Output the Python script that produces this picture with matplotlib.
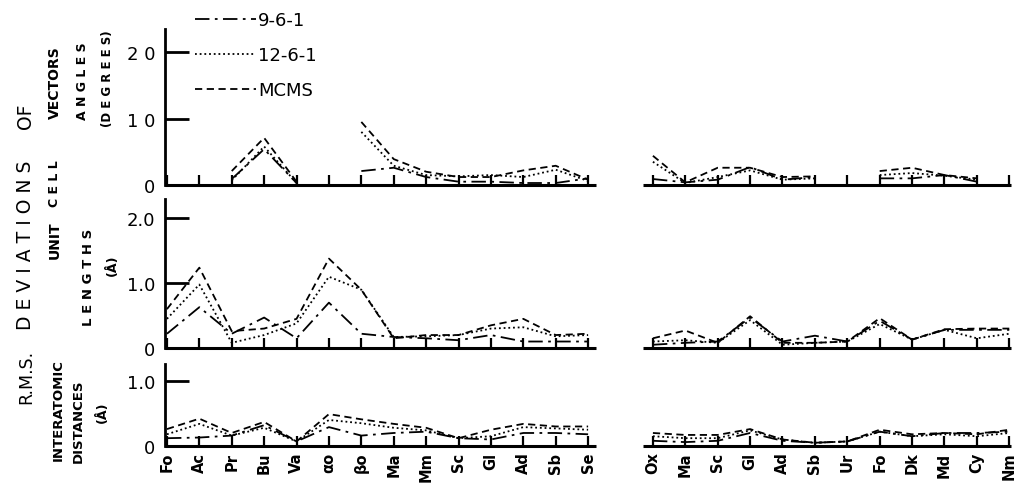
"""
R.M.S. deviations of unit cell vectors and interatomic distances
for three potential sets (9-6-1, 12-6-1, MCMS), redrawn from a scanned figure.
"""

import numpy as np
import matplotlib
matplotlib.use("Agg")
import matplotlib.pyplot as plt

nan = np.nan

# ---------- categories (two groups of crystals, gap between) ----------
left_labels = ["Fo", "Ac", "Pr", "Bu", "Va", "αo", "βo", "Ma", "Mm",
               "Sc", "Gl", "Ad", "Sb", "Se"]
right_labels = ["Ox", "Ma", "Sc", "Gl", "Ad", "Sb", "Ur", "Fo", "Dk",
                "Md", "Cy", "Nm"]
labels = left_labels + right_labels
n_left = len(left_labels)
x_left = np.arange(n_left)
x_right = np.arange(len(right_labels)) + n_left + 1
x = np.concatenate([x_left, x_right])

# ---------- angles (degrees) ----------
ang_961 = [nan, nan, 0.09, 0.54, 0.03, nan, 0.21, 0.26, 0.12, 0.05, 0.05, 0.03, 0.03, 0.10,
           0.09, 0.04, 0.08, 0.27, 0.08, 0.12, nan, 0.10, 0.10, 0.15, 0.05, nan]
ang_1261 = [nan, nan, 0.07, 0.58, 0.03, nan, 0.80, 0.29, 0.15, 0.13, 0.15, 0.12, 0.23, 0.06,
            0.35, 0.03, 0.12, 0.22, 0.08, 0.10, nan, 0.15, 0.18, 0.14, 0.08, nan]
ang_mcms = [nan, nan, 0.21, 0.71, 0.05, nan, 0.95, 0.39, 0.20, 0.12, 0.12, 0.22, 0.29, 0.08,
            0.44, 0.04, 0.26, 0.26, 0.12, 0.13, nan, 0.21, 0.26, 0.15, 0.10, nan]

# ---------- lengths (Å) ----------
len_961 = [0.22, 0.63, 0.22, 0.47, 0.15, 0.70, 0.22, 0.17, 0.15, 0.12, 0.20, 0.10, 0.10, 0.10,
           0.05, 0.08, 0.10, 0.47, 0.10, 0.19, 0.10, 0.42, 0.13, 0.28, 0.28, 0.28]
len_1261 = [0.45, 0.98, 0.08, 0.20, 0.38, 1.10, 0.90, 0.17, 0.18, 0.20, 0.30, 0.32, 0.18, 0.20,
            0.10, 0.12, 0.08, 0.43, 0.05, 0.08, 0.10, 0.37, 0.13, 0.28, 0.15, 0.22]
len_mcms = [0.60, 1.24, 0.26, 0.30, 0.45, 1.38, 0.90, 0.15, 0.20, 0.20, 0.35, 0.45, 0.20, 0.22,
            0.15, 0.27, 0.08, 0.49, 0.08, 0.08, 0.10, 0.46, 0.13, 0.29, 0.30, 0.30]

# ---------- interatomic distances (Å) ----------
dist_961 = [0.12, 0.13, 0.16, 0.32, 0.07, 0.29, 0.16, 0.20, 0.22, 0.12, 0.10, 0.20, 0.20, 0.18,
            0.08, 0.06, 0.08, 0.20, 0.08, 0.05, 0.07, 0.22, 0.15, 0.20, 0.20, 0.22]
dist_1261 = [0.18, 0.34, 0.16, 0.28, 0.07, 0.40, 0.35, 0.28, 0.24, 0.12, 0.15, 0.29, 0.27, 0.25,
             0.15, 0.12, 0.12, 0.24, 0.10, 0.05, 0.07, 0.22, 0.15, 0.18, 0.15, 0.20]
dist_mcms = [0.26, 0.42, 0.20, 0.37, 0.07, 0.49, 0.41, 0.34, 0.28, 0.12, 0.25, 0.34, 0.30, 0.30,
             0.20, 0.17, 0.17, 0.26, 0.10, 0.05, 0.07, 0.25, 0.18, 0.20, 0.18, 0.25]

series_names = ["9-6-1", "12-6-1", "MCMS"]
styles = [(0, (8, 3, 1.5, 3)), (0, (1, 1.6)), (0, (4, 2.5))]

W, H = 1019, 485
fig = plt.figure(figsize=(W / 100, H / 100), dpi=100)


def px_axes(left, top, right, bottom):
    return fig.add_axes([left / W, 1 - bottom / H, (right - left) / W, (bottom - top) / H])


ax_top = px_axes(165, 30, 1019, 186)
ax_mid = px_axes(165, 200, 1019, 349)
ax_bot = px_axes(165, 365, 1019, 447)

panels = [
    (ax_top, [ang_961, ang_1261, ang_mcms], 2.35, [0, 1, 2], ["0", "1 0", "2 0"]),
    (ax_mid, [len_961, len_1261, len_mcms], 2.3, [0, 1, 2], ["0", "1.0", "2.0"]),
    (ax_bot, [dist_961, dist_1261, dist_mcms], 1.26, [0, 1], ["0", "1.0"]),
]

handles = []
for ax, data, ytop, yt, ytl in panels:
    for vals, ls, name in zip(data, styles, series_names):
        vals = np.asarray(vals, dtype=float)
        line, = ax.plot(x_left, vals[:n_left], color="black", linestyle=ls,
                        linewidth=1.3, label=name)
        ax.plot(x_right, vals[n_left:], color="black", linestyle=ls, linewidth=1.3)
        if ax is ax_top:
            handles.append(line)
    ax.set_xlim(-0.06, x[-1] + 0.3)
    ax.set_ylim(0, ytop)
    for s in ["top", "right", "bottom"]:
        ax.spines[s].set_visible(False)
    ax.spines["left"].set_linewidth(2)
    # broken baseline under the two groups
    ax.hlines(0, -0.06, n_left - 0.75, color="black", linewidth=2.2, clip_on=False)
    ax.hlines(0, n_left + 0.7, x[-1] + 0.05, color="black", linewidth=2.2, clip_on=False)
    ax.set_yticks(yt)
    ax.set_yticklabels(ytl, fontsize=13)
    ax.tick_params(axis="y", direction="in", length=17, width=2, pad=7)
    ax.set_xticks(x)
    ax.tick_params(axis="x", direction="in", length=7, width=1.6, pad=4)
    ax.set_xticklabels([])

ax_bot.set_xticklabels(labels, rotation=90, fontsize=10.5, fontweight="bold")

# legend in the upper left corner
fig.legend(handles=handles, labels=series_names, loc="upper left",
           bbox_to_anchor=(195 / W, 1 - 12 / H), frameon=False, fontsize=13,
           handlelength=3.4, handletextpad=0.1, labelspacing=0.95,
           borderpad=0, borderaxespad=0)

# ---------- y-axis titles ----------
def ftext(xp, yp, s, size, weight="normal"):
    fig.text(xp / W, 1 - yp / H, s, rotation=90, ha="center", va="center",
             fontsize=size, fontweight=weight)


ftext(26, 377, "R.M.S.", 12.5)
ftext(26, 245, "D E V I A T I O N S", 13.5)
ftext(26, 116, "OF", 13.5)
ftext(55, 240, "UNIT", 10, "bold")
ftext(55, 184, "C E L L", 9, "bold")
ftext(55, 83, "VECTORS", 10, "bold")
ftext(83, 81, "A N G L E S", 9, "bold")
ftext(107, 79, "(D E G R E E S)", 8.5, "bold")
ftext(88, 277, "L E N G T H S", 9.5, "bold")
ftext(112, 265, "(Å)", 9, "bold")
ftext(58, 410, "INTERATOMIC", 9.5, "bold")
ftext(78, 421, "DISTANCES", 9.5, "bold")
ftext(102, 412, "(Å)", 9, "bold")

fig.savefig("out.png", dpi=100)
